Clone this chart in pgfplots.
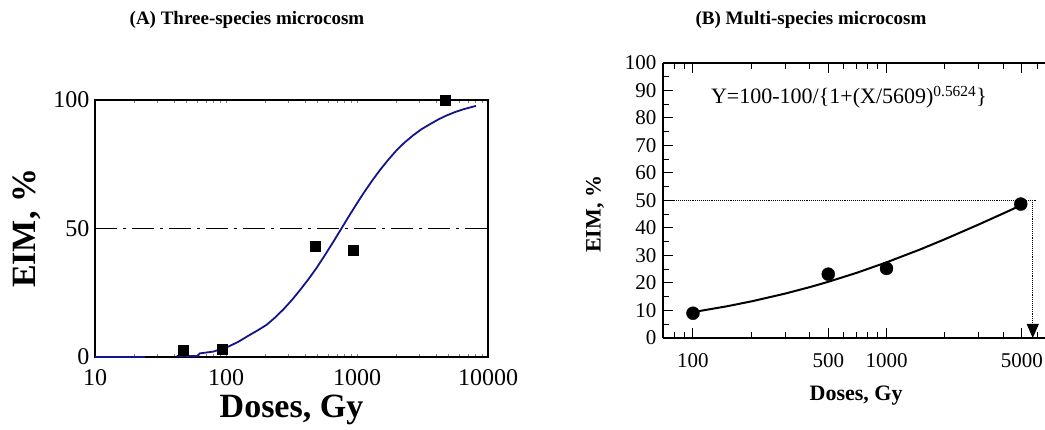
\documentclass[border=0pt]{standalone}
\usepackage{fontspec}
\setmainfont{Liberation Serif}
\usepackage{pgfplots}
\pgfplotsset{compat=1.18}
\usetikzlibrary{arrows.meta}

\definecolor{curveblue}{RGB}{20,20,140}

\begin{document}
\begin{tikzpicture}
\useasboundingbox (0,0) rectangle (1045pt,430pt);

% panel titles
\node[font=\fontsize{19}{22}\selectfont\bfseries] at (247pt,410pt) {(A) Three-species microcosm};
\node[font=\fontsize{19}{22}\selectfont\bfseries] at (811pt,410pt) {(B) Multi-species microcosm};

% (A) three-species
\begin{axis}[
    at={(95pt,73pt)}, anchor=south west,
    scale only axis, width=393pt, height=257pt,
    xmode=log, xmin=10, xmax=10000, ymin=0, ymax=100,
    xtick={10,100,1000,10000}, xticklabels={10,100,1000,10000},
    ytick={0,50,100}, yticklabels={0,50,100},
    minor xtick={}, major tick length=0pt,
    axis line style={line width=2.4pt},
    tick label style={font=\fontsize{24}{26}\selectfont},
    xticklabel style={yshift=-9pt},
    yticklabel style={xshift=-2pt},
    xlabel={\textbf{Doses, Gy}}, ylabel={\textbf{EIM, \%}},
    label style={font=\fontsize{34}{38}\selectfont},
    x label style={at={(axis description cs:0.5,-0.206)}, anchor=center},
    y label style={at={(axis description cs:-0.173,0.5)}, anchor=center},
    clip=false,
]
\addplot[black, line width=1.6pt, dash pattern=on 22pt off 6pt on 3pt off 6pt]
    coordinates {(10,50) (10000,50)};
\addplot[curveblue, line width=1.8pt] coordinates {(10,0) (24,0)};
\addplot[curveblue, line width=1.8pt] coordinates {
    (42,0.4) (61,0.4) (63,1.4) (80,2.1) (104,4.0) (125,6.0) (152,8.6)
    (175,10.4) (204,12.5) (235,15.2) (274,18.5) (320,22.3) (367,26.0)
    (425,30.2) (492,34.7) (570,39.7) (659,44.8) (763,50.1) (885,55.5)
    (1000,59.8) (1117,63.6) (1300,68.5) (1500,72.8) (1750,77.0) (2010,80.5)
    (2300,83.4) (2690,86.3) (3100,88.6) (3610,90.6) (4200,92.5) (4840,94.0)
    (5600,95.3) (6490,96.4) (8090,97.7)};
\addplot[only marks, mark=square*, mark size=5pt, black] coordinates {
    (47,2.5) (93,3) (483,43) (938,41.5) (4700,100)};
\end{axis}

% (B) multi-species
\begin{axis}[
    at={(663pt,92pt)}, anchor=south west,
    scale only axis, width=417pt, height=275pt,
    xmode=log, xmin=70, xmax=10000, ymin=0, ymax=100,
    axis x line*=box, axis y line*=left,
    xtick={100,500,1000,5000}, xticklabels={100,500,1000,5000},
    minor xtick={70,80,90,200,300,400,600,700,800,900,2000,3000,4000,6000,7000,8000,9000},
    ytick={0,10,...,100}, yticklabels={0,10,20,30,40,50,60,70,80,90,100},
    minor y tick num=1,
    tick align=inside, major tick length=10pt, minor tick length=6pt,
    axis line style={line width=1.3pt}, tick style={line width=1pt, black},
    tick label style={font=\fontsize{21}{23}\selectfont},
    xticklabel style={yshift=-12pt},
    yticklabel style={xshift=-3pt},
    xlabel={\textbf{Doses, Gy}}, ylabel={\textbf{EIM, \%}},
    label style={font=\fontsize{22}{24}\selectfont},
    x label style={at={(axis description cs:0.463,-0.211)}, anchor=center},
    y label style={at={(axis description cs:-0.163,0.45)}, anchor=center},
    clip=false,
]
\addplot[black, line width=0.9pt, densely dotted] coordinates {(70,50) (6000,50)};
\addplot[black, line width=0.9pt, densely dotted,
    -{Triangle[width=12pt, length=14pt, fill=black]}]
    coordinates {(5700,50) (5700,0)};
\addplot[black, line width=2pt] coordinates {
    (100,9.40) (150,11.54) (200,13.30) (300,16.16) (400,18.47) (500,20.43)
    (700,23.68) (1000,27.50) (1500,32.26) (2000,35.90) (3000,41.29)
    (4000,45.26) (5000,48.39)};
\addplot[only marks, mark=*, mark size=6.5pt, black] coordinates {
    (100,9) (500,23.2) (1000,25.3) (4940,48.7)};
\node[font=\fontsize{22}{24}\selectfont] at (axis description cs:0.446,0.876)
    {Y=100-100/\{1+(X/5609)\textsuperscript{0.5624}\}};
\end{axis}
\end{tikzpicture}
\end{document}
